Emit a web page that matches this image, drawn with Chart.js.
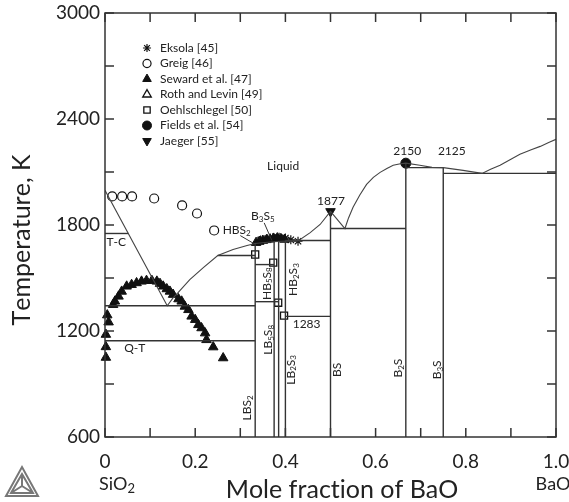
<!DOCTYPE html>
<html>
<head>
<meta charset="utf-8">
<script src="https://cdn.jsdelivr.net/npm/chart.js"></script>
<style>
  html, body { margin: 0; padding: 0; background: #fff; }
</style>
</head>
<body>
<canvas id="phaseChart" width="569" height="502"></canvas>
<script>
// x = mole fraction of BaO, T = temperature in K

const liquidusX = [0, 0.138, 0.150, 0.162, 0.188, 0.218, 0.250, 0.284, 0.315, 0.333, 0.360, 0.390, 0.428,
    0.455, 0.477, 0.500, 0.532, 0.540, 0.550, 0.565, 0.580, 0.595, 0.610, 0.625, 0.639, 0.655, 0.667,
    0.698, 0.725, 0.750, 0.794, 0.836, 0.855, 0.876, 0.900, 0.920, 0.945, 0.965, 0.985, 1.000];
const liquidusT = [1996, 1343, 1385, 1417, 1491, 1559, 1627, 1661, 1684, 1695, 1702, 1708, 1710,
    1757, 1803, 1877, 1780, 1840, 1900, 1970, 2030, 2070, 2098, 2120, 2138, 2147, 2150,
    2138, 2126, 2125, 2109, 2092, 2115, 2138, 2172, 2200, 2226, 2245, 2268, 2285];

// invariant lines and compound lines: [x1, T1, x2, T2]
const tieLines = [
    [0, 1752, 0.052, 1752],      // T-C
    [0, 1343, 0.333, 1343],
    [0, 1145, 0.333, 1145],      // Q-T
    [0.25, 1627, 0.333, 1627],
    [0.333, 1576, 0.375, 1576],
    [0.333, 1366, 0.385, 1366],
    [0.4, 1712, 0.5, 1712],
    [0.4, 1283, 0.5, 1283],
    [0.5, 1780, 0.667, 1780],
    [0.667, 2125, 0.75, 2125],
    [0.75, 2092, 1.0, 2092],
    [0.333, 600, 0.333, 1700],   // BS2
    [0.375, 600, 0.375, 1705],   // B3S5
    [0.385, 600, 0.385, 1710],   // B5S8
    [0.4, 600, 0.4, 1712],       // B2S3
    [0.5, 600, 0.5, 1877],       // BS
    [0.667, 600, 0.667, 2150],   // B2S
    [0.75, 600, 0.75, 2125]      // B3S
];

const eksolaX = [0.345, 0.360, 0.372, 0.386, 0.400, 0.412, 0.428];
const eksolaT = [1715, 1722, 1728, 1730, 1726, 1716, 1708];

const greigX = [0.016, 0.038, 0.060, 0.109, 0.171, 0.204, 0.242];
const greigT = [1962, 1962, 1962, 1950, 1911, 1865, 1769];

const sewardX = [0.018, 0.022, 0.030, 0.037, 0.048, 0.059, 0.070, 0.081, 0.092, 0.104, 0.115, 0.122,
    0.129, 0.137, 0.144, 0.151, 0.163, 0.170, 0.177, 0.185, 0.192, 0.200, 0.207, 0.214, 0.222, 0.225,
    0.240, 0.262, 0.005, 0.008, 0.002, 0.002, 0.002,
    0.335, 0.342, 0.350, 0.358, 0.366, 0.374, 0.382, 0.390, 0.398];
const sewardT = [1349, 1368, 1396, 1424, 1453, 1462, 1472, 1481, 1485, 1485, 1481, 1468,
    1453, 1438, 1424, 1406, 1381, 1368, 1339, 1320, 1283, 1264, 1235, 1217, 1188, 1150,
    1109, 1047, 1290, 1250, 1180, 1110, 1050,
    1700, 1706, 1712, 1716, 1720, 1724, 1726, 1722, 1718];

const oehlX = [0.333, 0.373, 0.384, 0.397];
const oehlT = [1633, 1587, 1360, 1287];

const fieldsX = [0.667];
const fieldsT = [2150];

const jaegerX = [0.5];
const jaegerT = [1877];

const legendLabels = ['Eksola [45]', 'Greig [46]', 'Seward et al. [47]', 'Roth and Levin [49]',
    'Oehlschlegel [50]', 'Fields et al. [54]', 'Jaeger [55]'];

const xTickValues = ['0', '0.2', '0.4', '0.6', '0.8', '1.0'];

// text on the diagram, '_' marks a subscript character
const notes = [
    { text: 'Liquid', x: 0.395, T: 2132, rot: 0 },
    { text: '1877', x: 0.501, T: 1933, rot: 0 },
    { text: '2150', x: 0.670, T: 2217, rot: 0 },
    { text: '2125', x: 0.769, T: 2217, rot: 0 },
    { text: '1283', x: 0.447, T: 1241, rot: 0 },
    { text: 'T-C', x: 0.025, T: 1701, rot: 0 },
    { text: 'Q-T', x: 0.066, T: 1105, rot: 0 },
    { text: 'HBS_2', x: 0.292, T: 1769, rot: 0 },
    { text: 'B_3S_5', x: 0.350, T: 1848, rot: 0 },
    { text: 'HB_5S_8', x: 0.359, T: 1468, rot: 1 },
    { text: 'HB_2S_3', x: 0.418, T: 1491, rot: 1 },
    { text: 'LB_5S_8', x: 0.362, T: 1150, rot: 1 },
    { text: 'LB_2S_3', x: 0.412, T: 980, rot: 1 },
    { text: 'LBS_2', x: 0.316, T: 765, rot: 1 },
    { text: 'BS', x: 0.515, T: 980, rot: 1 },
    { text: 'B_2S', x: 0.650, T: 990, rot: 1 },
    { text: 'B_3S', x: 0.737, T: 980, rot: 1 }
];

// leader lines from labels to the phases
const leaders = [
    [0.30, 1740, 0.330, 1695],
    [0.353, 1812, 0.370, 1712]
];

const TEXT = '#222';
const LINE = '#333';
const FONT = 'Lato, "Open Sans", sans-serif';

function pts(xs, ts) {
    return xs.map((x, i) => ({ x: x, y: ts[i] }));
}

function markerSet(label, xs, ts, style) {
    return Object.assign({
        label: label,
        data: pts(xs, ts),
        showLine: false,
        borderColor: '#111',
        backgroundColor: '#111',
        borderWidth: 1,
        pointRadius: 4.5,
        clip: false
    }, style);
}

const markerStyles = [
    { pointStyle: 'star', pointRadius: 4.5, backgroundColor: '#111', borderWidth: 1.2 },
    { pointStyle: 'circle', pointRadius: 4.5, backgroundColor: '#fff', borderWidth: 1.2 },
    { pointStyle: 'triangle', pointRadius: 5.5, backgroundColor: '#111', borderWidth: 1 },
    { pointStyle: 'triangle', pointRadius: 5.5, backgroundColor: '#fff', borderWidth: 1.3 },
    { pointStyle: 'rect', pointRadius: 5, backgroundColor: 'rgba(255,255,255,0)', borderWidth: 1.3 },
    { pointStyle: 'circle', pointRadius: 5, backgroundColor: '#111', borderWidth: 1 },
    { pointStyle: 'triangle', pointRadius: 5.5, backgroundColor: '#111', borderWidth: 1, rotation: 180 }
];

function drawRich(ctx, text, x, y, size, rotate) {
    const parts = [];
    for (let i = 0; i < text.length; i++) {
        if (text[i] === '_') { parts.push([text[i + 1], true]); i++; }
        else parts.push([text[i], false]);
    }
    const big = size + 'px ' + FONT;
    const small = Math.round(size * 0.7) + 'px ' + FONT;
    let w = 0;
    parts.forEach(p => { ctx.font = p[1] ? small : big; w += ctx.measureText(p[0]).width; });
    ctx.save();
    ctx.translate(x, y);
    if (rotate) ctx.rotate(-Math.PI / 2);
    ctx.textBaseline = 'middle';
    ctx.textAlign = 'left';
    let cx = -w / 2;
    parts.forEach(p => {
        ctx.font = p[1] ? small : big;
        ctx.fillText(p[0], cx, p[1] ? size * 0.25 : 0);
        cx += ctx.measureText(p[0]).width;
    });
    ctx.restore();
}

const decorPlugin = {
    id: 'decor',
    afterDatasetsDraw(chart) {
        const ctx = chart.ctx;
        const a = chart.chartArea;
        const xs = chart.scales.x, ys = chart.scales.y;
        ctx.save();

        // frame and inward ticks
        ctx.strokeStyle = LINE;
        ctx.lineWidth = 1.5;
        ctx.strokeRect(a.left, a.top, a.right - a.left, a.bottom - a.top);
        ctx.beginPath();
        xs.ticks.forEach(t => {
            const px = xs.getPixelForValue(t.value);
            ctx.moveTo(px, a.bottom); ctx.lineTo(px, a.bottom - 9);
            ctx.moveTo(px, a.top); ctx.lineTo(px, a.top + 9);
        });
        ys.ticks.forEach(t => {
            const py = ys.getPixelForValue(t.value);
            ctx.moveTo(a.left, py); ctx.lineTo(a.left + 9, py);
            ctx.moveTo(a.right, py); ctx.lineTo(a.right - 9, py);
        });
        ctx.stroke();

        // leader lines
        ctx.lineWidth = 1;
        ctx.beginPath();
        leaders.forEach(l => {
            ctx.moveTo(xs.getPixelForValue(l[0]), ys.getPixelForValue(l[1]));
            ctx.lineTo(xs.getPixelForValue(l[2]), ys.getPixelForValue(l[3]));
        });
        ctx.stroke();

        // diagram text
        ctx.fillStyle = TEXT;
        notes.forEach(n => {
            drawRich(ctx, n.text, xs.getPixelForValue(n.x), ys.getPixelForValue(n.T), 12, n.rot);
        });

        // legend
        const lx = a.left + 42, ly = a.top + 35;
        legendLabels.forEach((lab, i) => {
            const st = markerStyles[i];
            const y = ly + i * 15.5;
            ctx.fillStyle = st.backgroundColor;
            ctx.strokeStyle = '#111';
            ctx.lineWidth = st.borderWidth;
            Chart.helpers.drawPoint(ctx, {
                pointStyle: st.pointStyle, radius: st.pointRadius * 0.9,
                rotation: st.rotation || 0, borderWidth: st.borderWidth
            }, lx, y);
            ctx.fillStyle = TEXT;
            ctx.font = '12px ' + FONT;
            ctx.textBaseline = 'middle';
            ctx.textAlign = 'left';
            ctx.fillText(lab, lx + 13, y);
        });

        // end member names and axis titles
        ctx.fillStyle = TEXT;
        drawRich(ctx, 'SiO_2', xs.getPixelForValue(0) + 12, 484, 18, false);
        drawRich(ctx, 'BaO', xs.getPixelForValue(1) - 3, 484, 18, false);
        drawRich(ctx, 'Mole fraction of BaO', 342, 490, 25, false);
        drawRich(ctx, 'Temperature, K', 22, 240, 25, true);

        // logo
        ctx.strokeStyle = '#777';
        ctx.lineWidth = 2;
        ctx.beginPath();
        ctx.moveTo(6, 496); ctx.lineTo(38, 496); ctx.lineTo(22, 467); ctx.closePath();
        ctx.moveTo(11, 493); ctx.lineTo(33, 493); ctx.lineTo(22, 474); ctx.closePath();
        ctx.moveTo(22, 486); ctx.lineTo(22, 474);
        ctx.moveTo(22, 486); ctx.lineTo(11, 493);
        ctx.moveTo(22, 486); ctx.lineTo(33, 493);
        ctx.stroke();
        ctx.restore();
    }
};

const datasets = [{
    label: 'liquidus',
    data: pts(liquidusX, liquidusT),
    showLine: true,
    pointRadius: 0,
    borderColor: '#444',
    borderWidth: 1.1,
    tension: 0
}];
tieLines.forEach(s => {
    datasets.push({
        label: 'line',
        data: [{ x: s[0], y: s[1] }, { x: s[2], y: s[3] }],
        showLine: true,
        pointRadius: 0,
        borderColor: LINE,
        borderWidth: 1.4
    });
});
datasets.push(markerSet('Eksola', eksolaX, eksolaT, markerStyles[0]));
datasets.push(markerSet('Greig', greigX, greigT, markerStyles[1]));
datasets.push(markerSet('Seward', sewardX, sewardT, markerStyles[2]));
datasets.push(markerSet('Oehlschlegel', oehlX, oehlT, markerStyles[4]));
datasets.push(markerSet('Fields', fieldsX, fieldsT, markerStyles[5]));
datasets.push(markerSet('Jaeger', jaegerX, jaegerT, markerStyles[6]));

new Chart(document.getElementById('phaseChart').getContext('2d'), {
    type: 'scatter',
    data: { datasets: datasets },
    options: {
        responsive: false,
        animation: false,
        devicePixelRatio: 1,
        layout: { padding: { left: 0, right: 13, top: 13, bottom: 0 } },
        plugins: { legend: { display: false }, tooltip: { enabled: false } },
        scales: {
            x: {
                type: 'linear', min: 0, max: 1,
                grid: { display: false, drawTicks: false },
                border: { display: false },
                ticks: {
                    stepSize: 0.1, autoSkip: false, maxRotation: 0, padding: 13,
                    color: TEXT, font: { family: FONT, size: 19 },
                    callback: (v, i) => (i % 2 === 0 ? xTickValues[i / 2] : '')
                },
                afterFit: s => {
                    s.height = 65;
                    s.paddingLeft = 0; s.paddingRight = 0;
                }
            },
            y: {
                type: 'linear', min: 600, max: 3000,
                grid: { display: false, drawTicks: false },
                border: { display: false },
                ticks: {
                    stepSize: 300, autoSkip: false, padding: 5,
                    color: TEXT, font: { family: FONT, size: 19 },
                    callback: v => (v % 600 === 0 ? String(v) : '')
                },
                afterFit: s => {
                    s.width = 105;
                    s.paddingTop = 0; s.paddingBottom = 0;
                }
            }
        }
    },
    plugins: [decorPlugin]
});
</script>
</body>
</html>
